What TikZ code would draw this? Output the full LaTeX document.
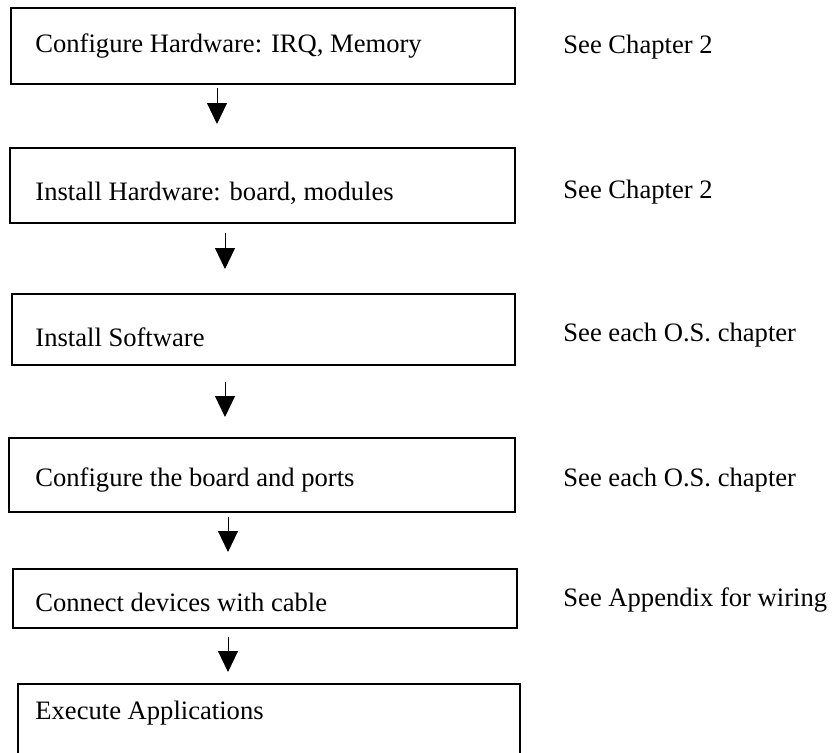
\documentclass[tikz,border=0pt]{standalone}
\usepackage{fontspec}
\setmainfont{Liberation Serif}
\usetikzlibrary{arrows.meta}

\begin{document}
\begin{tikzpicture}[x=0.5pt,y=-0.5pt,  % one unit = one pixel of the layout
    stepbox/.style={
      rectangle,draw,
      line width=0.7pt,
      inner sep=0pt,outer sep=0pt
    },
    steptext/.style={
      anchor=west,
      inner sep=0pt,
      font=\fontsize{13.3}{16}\selectfont
    },
    flow/.style={
      line width=0.5pt,
      -{Triangle[width=10pt,length=10.5pt]}
    }
  ]
    \useasboundingbox (0,0) rectangle (832,752);

    % Step boxes
    \node[stepbox,minimum width=252pt,minimum height=38pt] (b1) at (263,46) {};
    \node[stepbox,minimum width=252.5pt,minimum height=37.5pt] (b2) at (262.5,185.5) {};
    \node[stepbox,minimum width=251.5pt,minimum height=35.5pt] (b3) at (263.5,329.5) {};
    \node[stepbox,minimum width=253pt,minimum height=37pt] (b4) at (262,475) {};
    \node[stepbox,minimum width=252pt,minimum height=29.5pt] (b5) at (265,598.5) {};
    \node[stepbox,minimum width=251pt,minimum height=48pt] (b6) at (269,732) {};

    % Step texts
    \node[steptext] (t1) at (35,46) {Configure Hardware: IRQ, Memory};
    \node[steptext] (t2) at (35,193) {Install Hardware: board, modules};
    \node[steptext] (t3) at (35,337) {Install Software};
    \node[steptext] (t4) at (35,480) {Configure the board and ports};
    \node[steptext] (t5) at (35,602) {Connect devices with cable};
    \node[steptext] (t6) at (35,713) {Execute Applications};

    % References on the right
    \node[steptext] (r1) at (563,47) {See Chapter 2};
    \node[steptext] (r2) at (563,192) {See Chapter 2};
    \node[steptext] (r3) at (563,335) {See each O.S. chapter};
    \node[steptext] (r4) at (563,480) {See each O.S. chapter};
    \node[steptext] (r5) at (563,600) {See Appendix for wiring};

    % Arrows between steps
    \foreach \a/\b/\x/\s/\e in {b1/b2/217/2pt/12pt,b2/b3/225/5pt/12.5pt,
      b3/b4/225/8.5pt/10.5pt,b4/b5/228/2.5pt/8.5pt,b5/b6/228/4.5pt/6pt} {
      \draw[flow,shorten <=\s,shorten >=\e] (\x,0 |- \a.south) -- (\x,0 |- \b.north);
    }

\end{tikzpicture}
\end{document}
